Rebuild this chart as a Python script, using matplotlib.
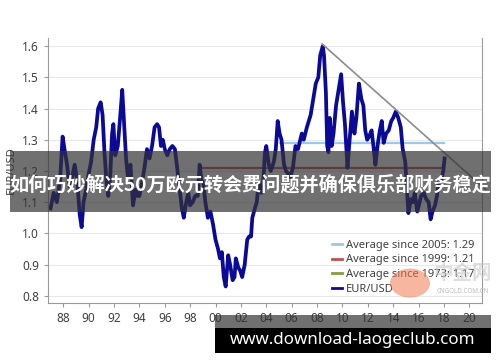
import matplotlib
matplotlib.use("Agg")
import matplotlib.pyplot as plt
from matplotlib.lines import Line2D
from matplotlib.patches import Rectangle, Circle

plt.rcParams['font.family'] = ['Noto Sans', 'Noto Sans CJK SC', 'DejaVu Sans']

# EUR/USD (synthetic euro before 1999)
years = [1987.0, 1987.25, 1987.5, 1987.75, 1987.95, 1988.1, 1988.3, 1988.5, 1988.7, 1988.9,
         1989.1, 1989.3, 1989.45, 1989.6, 1989.8, 1990.0, 1990.2, 1990.4, 1990.6, 1990.75,
         1990.95, 1991.1, 1991.25, 1991.4, 1991.55, 1991.7, 1991.85, 1991.95, 1992.1, 1992.3,
         1992.5, 1992.65, 1992.8, 1992.95, 1993.1, 1993.3, 1993.5, 1993.7, 1993.85, 1994.0,
         1994.2, 1994.4, 1994.6, 1994.8, 1995.0, 1995.2, 1995.4, 1995.55, 1995.7, 1995.85,
         1996.0, 1996.2, 1996.4, 1996.6, 1996.8, 1996.95, 1997.15, 1997.35, 1997.5, 1997.65,
         1997.85, 1998.0, 1998.2, 1998.4, 1998.6, 1998.75, 1998.9, 1999.05, 1999.2, 1999.4,
         1999.6, 1999.8, 2000.0, 2000.2, 2000.35, 2000.5, 2000.65, 2000.8, 2001.0, 2001.15,
         2001.35, 2001.5, 2001.6, 2001.8, 2001.95, 2002.1, 2002.3, 2002.5, 2002.65, 2002.8,
         2002.9, 2003.1, 2003.25, 2003.4, 2003.6, 2003.75, 2003.9, 2004.0, 2004.2, 2004.35,
         2004.6, 2004.75, 2004.9, 2005.05, 2005.2, 2005.4, 2005.55, 2005.75, 2005.9, 2006.1,
         2006.3, 2006.5, 2006.8, 2006.95, 2007.2, 2007.5, 2007.7, 2007.9, 2008.1, 2008.25,
         2008.45, 2008.55, 2008.7, 2008.8, 2008.9, 2009.0, 2009.15, 2009.3, 2009.5, 2009.7,
         2009.9, 2010.05, 2010.2, 2010.4, 2010.55, 2010.75, 2010.95, 2011.1, 2011.3, 2011.5,
         2011.65, 2011.8, 2011.95, 2012.1, 2012.3, 2012.5, 2012.6, 2012.8, 2012.95, 2013.1,
         2013.25, 2013.45, 2013.65, 2013.85, 2014.0, 2014.2, 2014.4, 2014.6, 2014.75, 2014.95,
         2015.1, 2015.2, 2015.4, 2015.55, 2015.7, 2015.9, 2016.0, 2016.2, 2016.4, 2016.6,
         2016.8, 2016.95, 2017.1, 2017.3, 2017.45, 2017.6, 2017.8, 2017.95, 2018.05]
eurusd = [1.08, 1.13, 1.10, 1.17, 1.31, 1.27, 1.22, 1.15, 1.18, 1.22,
          1.17, 1.06, 1.02, 1.10, 1.14, 1.19, 1.23, 1.30, 1.34, 1.40,
          1.42, 1.38, 1.26, 1.17, 1.12, 1.18, 1.32, 1.35, 1.25, 1.28,
          1.38, 1.46, 1.35, 1.24, 1.18, 1.22, 1.09, 1.14, 1.12, 1.12,
          1.16, 1.21, 1.27, 1.24, 1.28, 1.34, 1.35, 1.34, 1.28, 1.30,
          1.27, 1.25, 1.27, 1.28, 1.27, 1.22, 1.15, 1.08, 1.05, 1.09,
          1.13, 1.09, 1.10, 1.12, 1.12, 1.22, 1.17, 1.16, 1.10, 1.05,
          1.07, 1.03, 0.98, 0.95, 0.92, 0.94, 0.86, 0.83, 0.93, 0.90,
          0.85, 0.86, 0.92, 0.89, 0.88, 0.86, 0.90, 0.98, 0.99, 0.99,
          1.05, 1.08, 1.10, 1.16, 1.13, 1.16, 1.26, 1.28, 1.22, 1.20,
          1.23, 1.27, 1.36, 1.32, 1.30, 1.22, 1.20, 1.19, 1.18, 1.21,
          1.28, 1.27, 1.32, 1.30, 1.34, 1.38, 1.43, 1.48, 1.50, 1.57,
          1.60, 1.57, 1.45, 1.28, 1.26, 1.37, 1.28, 1.32, 1.41, 1.46,
          1.51, 1.42, 1.35, 1.21, 1.29, 1.39, 1.32, 1.37, 1.48, 1.43,
          1.41, 1.33, 1.30, 1.31, 1.33, 1.26, 1.22, 1.29, 1.33, 1.36,
          1.29, 1.32, 1.33, 1.36, 1.37, 1.39, 1.37, 1.34, 1.27, 1.23,
          1.13, 1.065, 1.11, 1.10, 1.13, 1.07, 1.085, 1.12, 1.13, 1.11,
          1.10, 1.045, 1.07, 1.09, 1.12, 1.17, 1.17, 1.20, 1.24]

avg_labels = ["Average since 2005: 1.29", "Average since 1999: 1.21", "Average since 1973: 1.17"]
avg_values = [1.29, 1.21, 1.17]
avg_start = [2005.1, 1999.0, 1987.0]
avg_colors = ["#9cc8ec", "#c0504d", "#7fa03f"]

trend_x = [2008.4, 2021.3]
trend_y = [1.607, 1.14]

xticks = list(range(1988, 2021, 2))
xticklabels = ["%02d" % (y % 100) for y in xticks]

fig = plt.figure(figsize=(5.0, 3.62), dpi=100)
ax = fig.add_axes([0.096, 0.163, 0.868, 0.732])

ax.set_xlim(1986.8, 2021.0)
ax.set_ylim(0.777, 1.626)
ax.set_yticks([0.8, 0.9, 1.0, 1.1, 1.2, 1.3, 1.4, 1.5, 1.6])
ax.set_xticks(xticks)
ax.set_xticklabels(xticklabels)
ax.grid(axis='y', color='#e8e8e8', linewidth=0.8)
ax.set_axisbelow(True)
for s in ['left', 'bottom', 'right']:
    ax.spines[s].set_color('#9a9a9a')
ax.spines['top'].set_visible(False)
ax.tick_params(colors='#9a9a9a', labelcolor='#404040', labelsize=8.5, length=3)
ax.set_ylabel("EUR/USD", fontsize=8, color='#404040', labelpad=4)

# averages (1973 one sits under the banner)
ax.plot([avg_start[0], 2018.0], [avg_values[0]] * 2, color=avg_colors[0], lw=1.6)
ax.plot([avg_start[1], 2018.0], [avg_values[1]] * 2, color=avg_colors[1], lw=1.6)

ax.plot(years, eurusd, color='#0a0a96', lw=2.7, solid_joinstyle='round')
ax.plot(trend_x, trend_y, color='#8c8c8c', lw=1.2, clip_on=False)

handles = [Line2D([], [], color=c, lw=2) for c in avg_colors]
handles.append(Line2D([], [], color='#0a0a96', lw=2))
leg = ax.legend(handles, avg_labels + ["EUR/USD"], loc='lower right',
                bbox_to_anchor=(1.0, 0.0), frameon=False, fontsize=8,
                handlelength=0.9, handletextpad=0.3, labelspacing=0.35,
                borderaxespad=0.3)
for t in leg.get_texts():
    t.set_color('#404040')

# watermark
fig.patches.append(Circle((0.82, 0.218), 0.04, transform=fig.transFigure,
                          facecolor='#f07a50', alpha=0.55, edgecolor='none'))
fig.text(0.925, 0.245, "中金网", fontsize=14, color='#c8c8c8', alpha=0.6,
         ha='center', va='center', family=['Noto Sans CJK SC'], weight='bold')
fig.text(0.925, 0.195, "CNGOLD.COM.CN", fontsize=4.5, color='#bbbbbb', ha='center', va='center')

# title banner
fig.patches.append(Rectangle((0.02, 0.414), 0.962, 0.169, transform=fig.transFigure,
                             facecolor='#333333', alpha=0.7, edgecolor='none'))
fig.text(0.5, 0.489, "如何巧妙解决50万欧元转会费问题并确保俱乐部财务稳定", color='white',
         fontsize=13.8, weight='bold', ha='center', va='center',
         family=['Noto Sans CJK SC', 'DejaVu Sans'])

# site banner
fig.patches.append(Rectangle((0.43, 0.094), 0.552, 0.036, transform=fig.transFigure,
                             facecolor='#333333', alpha=0.7, edgecolor='none'))
fig.patches.append(Rectangle((0.43, 0.025), 0.552, 0.069, transform=fig.transFigure,
                             facecolor='black', edgecolor='none'))
fig.text(0.705, 0.06, "www.download-laogeclub.com", color='white', fontsize=12.2,
         weight='bold', ha='center', va='center')

fig.savefig("out.png", dpi=100)
